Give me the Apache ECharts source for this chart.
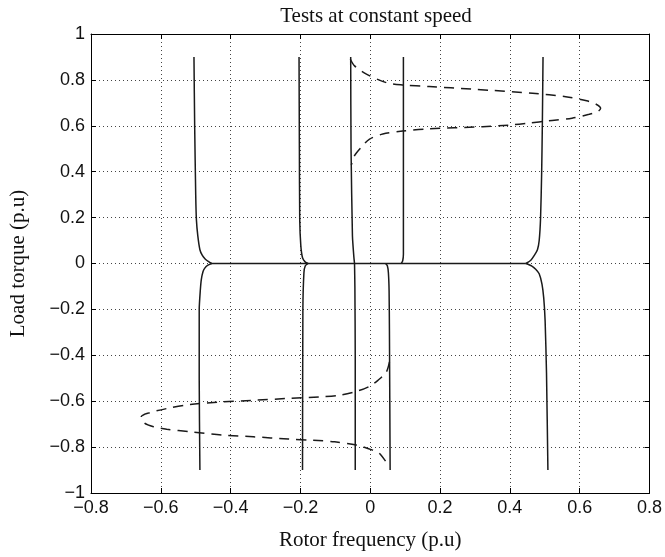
<!DOCTYPE html>
<html>
<head>
<meta charset="utf-8">
<script src="https://cdn.jsdelivr.net/npm/echarts@6/dist/echarts.min.js"></script>
<style>
  html, body { margin: 0; padding: 0; background: #fff; }
  #chart { width: 665px; height: 557px; }
</style>
</head>
<body>
<div id="chart"></div>
<script>
// ---- data ----
const titleText = 'Tests at constant speed';
const xAxisName = 'Rotor frequency (p.u)';
const yAxisName = 'Load torque (p.u)';
const xTicks = { min: -0.8, max: 0.8, step: 0.2 };
const yTicks = { min: -1, max: 1, step: 0.2 };

// solid curves (rotor frequency, load torque)
const solidM050Top = [[-0.505,0.9],[-0.503,0.6],[-0.5,0.3],[-0.498,0.19],[-0.494,0.12],[-0.488,0.06],[-0.481,0.035],[-0.473,0.02],[-0.463,0.008],[-0.454,0]];
const solidM050Bot = [[-0.454,0],[-0.466,-0.008],[-0.474,-0.02],[-0.479,-0.035],[-0.484,-0.07],[-0.487,-0.12],[-0.49,-0.2],[-0.49,-0.5],[-0.488,-0.9]];
const solidM020Top = [[-0.204,0.9],[-0.203,0.5],[-0.202,0.19],[-0.199,0.08],[-0.194,0.025],[-0.186,0.006],[-0.178,0]];
const solidM020Bot = [[-0.178,0],[-0.186,-0.01],[-0.19,-0.04],[-0.193,-0.2],[-0.194,-0.9]];
const solidM005Top = [[-0.056,0.9],[-0.055,0.5],[-0.051,0.12],[-0.047,0.03],[-0.045,0]];
const solidM005Bot = [[-0.045,0],[-0.044,-0.1],[-0.043,-0.4],[-0.043,-0.9]];
const solidP010Top = [[0.095,0.9],[0.095,0.3],[0.095,0.04],[0.093,0.012],[0.089,0]];
const solidP005Bot = [[0.044,0],[0.049,-0.01],[0.052,-0.04],[0.054,-0.12],[0.055,-0.3],[0.057,-0.9]];
const solidP050Top = [[0.495,0.9],[0.493,0.6],[0.491,0.39],[0.488,0.2],[0.484,0.1],[0.479,0.06],[0.47,0.035],[0.46,0.014],[0.446,0]];
const solidP050Bot = [[0.446,0],[0.462,-0.01],[0.474,-0.025],[0.484,-0.045],[0.492,-0.09],[0.497,-0.15],[0.501,-0.25],[0.505,-0.48],[0.509,-0.9]];
const solidZeroLine = [[-0.454,0],[0.446,0]];

// dashed curves
const dashedTop = [[-0.057,0.89],[-0.045,0.861],[-0.011,0.825],[0.046,0.788],[0.092,0.778],[0.169,0.771],[0.293,0.76],[0.341,0.755],[0.465,0.742],[0.56,0.727],[0.62,0.709],[0.647,0.694],[0.66,0.676],[0.652,0.662],[0.627,0.65],[0.578,0.633],[0.512,0.622],[0.455,0.612],[0.398,0.603],[0.322,0.596],[0.16,0.586],[0.093,0.577],[0.036,0.564],[-0.002,0.542],[-0.026,0.506],[-0.045,0.47],[-0.054,0.43]];
const dashedBot = [[0.055,-0.429],[0.046,-0.473],[0.022,-0.509],[-0.002,-0.535],[-0.035,-0.555],[-0.088,-0.574],[-0.145,-0.581],[-0.235,-0.588],[-0.335,-0.596],[-0.431,-0.604],[-0.516,-0.614],[-0.583,-0.632],[-0.636,-0.652],[-0.656,-0.668],[-0.647,-0.695],[-0.621,-0.711],[-0.583,-0.722],[-0.516,-0.733],[-0.421,-0.748],[-0.335,-0.755],[-0.235,-0.765],[-0.164,-0.77],[-0.102,-0.777],[-0.04,-0.791],[0.007,-0.813],[0.026,-0.827],[0.055,-0.886]];

const solidSets = [solidM050Top, solidM050Bot, solidM020Top, solidM020Bot, solidM005Top, solidM005Bot,
                   solidP010Top, solidP005Bot, solidP050Top, solidP050Bot, solidZeroLine];
const dashedSets = [dashedTop, dashedBot];

// ---- chart ----
const fmt = v => {
  const r = Math.round(v * 10) / 10;
  return (r < 0 ? '\u2212' : '') + String(Math.abs(r));
};
const tickFont = { fontFamily: 'Liberation Sans', fontSize: 18, color: '#111' };
const serif = 'Liberation Serif';

const series = [];
solidSets.forEach(d => series.push({
  type: 'line', data: d, showSymbol: false, symbol: 'none', smooth: 0.2,
  lineStyle: { color: '#1a1a1a', width: 1.5, type: 'solid' }, silent: true, z: 3
}));
dashedSets.forEach(d => series.push({
  type: 'line', data: d, showSymbol: false, symbol: 'none', smooth: 0.3,
  lineStyle: { color: '#1a1a1a', width: 1.5, type: [10, 7] }, silent: true, z: 3
}));

const chart = echarts.init(document.getElementById('chart'), null, { renderer: 'canvas' });
chart.setOption({
  animation: false,
  backgroundColor: '#fff',
  title: {
    text: titleText, left: 371, top: 1, textAlign: 'center',
    textStyle: { fontFamily: serif, fontWeight: 'normal', fontSize: 21, color: '#111' }
  },
  grid: { left: 91, right: 14, top: 34, bottom: 64, containLabel: false },
  xAxis: [{
    type: 'value', min: xTicks.min, max: xTicks.max, interval: xTicks.step, position: 'bottom',
    name: xAxisName, nameLocation: 'middle', nameGap: 37,
    nameTextStyle: { fontFamily: serif, fontSize: 21, color: '#111' },
    axisLine: { onZero: false, lineStyle: { color: '#000', width: 1 } },
    axisTick: { inside: true, length: 5, lineStyle: { color: '#000' } },
    axisLabel: Object.assign({ formatter: fmt, margin: 6 }, tickFont),
    splitLine: { show: true, lineStyle: { color: '#444', type: [1, 3], width: 1 } }
  }, {
    type: 'value', min: xTicks.min, max: xTicks.max, interval: xTicks.step, position: 'top',
    axisLine: { onZero: false, lineStyle: { color: '#000', width: 1 } },
    axisTick: { inside: true, length: 5, lineStyle: { color: '#000' } },
    axisLabel: { show: false }, splitLine: { show: false }
  }],
  yAxis: [{
    type: 'value', min: yTicks.min, max: yTicks.max, interval: yTicks.step, position: 'left',
    name: yAxisName, nameLocation: 'middle', nameGap: 62, nameRotate: 90,
    nameTextStyle: { fontFamily: serif, fontSize: 21, color: '#111' },
    axisLine: { onZero: false, lineStyle: { color: '#000', width: 1 } },
    axisTick: { inside: true, length: 5, lineStyle: { color: '#000' } },
    axisLabel: Object.assign({ formatter: fmt, margin: 6 }, tickFont),
    splitLine: { show: true, lineStyle: { color: '#444', type: [1, 3], width: 1 } }
  }, {
    type: 'value', min: yTicks.min, max: yTicks.max, interval: yTicks.step, position: 'right',
    axisLine: { onZero: false, lineStyle: { color: '#000', width: 1 } },
    axisTick: { inside: true, length: 5, lineStyle: { color: '#000' } },
    axisLabel: { show: false }, splitLine: { show: false }
  }],
  series: series
});
</script>
</body>
</html>
